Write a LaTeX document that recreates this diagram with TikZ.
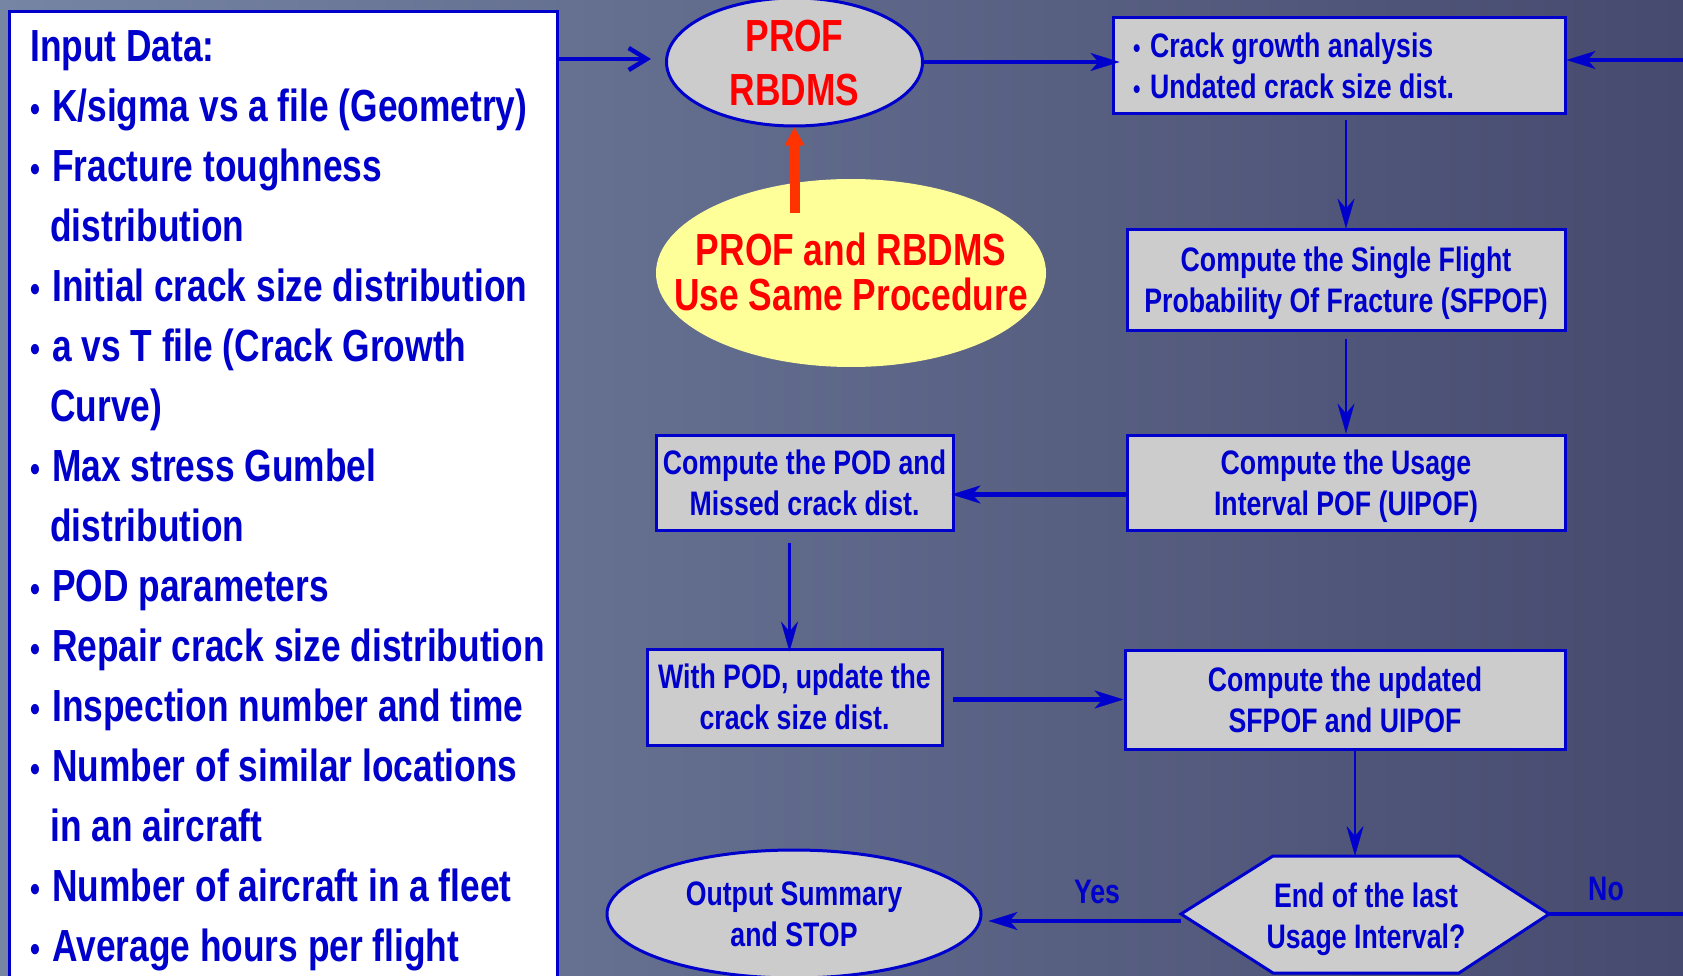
\documentclass[tikz,border=0pt]{standalone}
\usepackage{fontspec}
\newfontfamily\nar[FakeStretch=0.785]{Liberation Sans}
\usetikzlibrary{arrows.meta,shapes.geometric}
\definecolor{fb}{RGB}{0,0,204}
\definecolor{boxgray}{RGB}{204,204,204}
\definecolor{bgL}{RGB}{118,133,164}
\definecolor{bgR}{RGB}{70,74,110}
\definecolor{yelfill}{RGB}{255,255,153}
\definecolor{redarr}{RGB}{255,51,0}
\newcommand\bigbul{\makebox[22pt][l]{\fontsize{36}{36}\selectfont •}}
\newcommand\smallbul{\makebox[17pt][l]{\fontsize{27}{27}\selectfont •}}
\begin{document}
\begin{tikzpicture}[x=1pt,y=-1pt,
  lt/.style={font=\nar\bfseries\fontsize{45}{60}\selectfont, text=fb, anchor=base west, inner sep=0pt},
  flow/.style={draw=fb, line width=3pt, fill=boxgray, text=fb, font=\nar\bfseries\fontsize{34}{41}\selectfont, align=center, inner sep=0pt},
  flowbox/.style={flow, text depth=0pt},
  flowtxt/.style={text=fb, font=\nar\bfseries\fontsize{34}{41}\selectfont, align=center, inner sep=0pt},
  redtxt/.style={text=red, align=center, inner sep=0pt},
  thinarrow/.style={draw=fb, line width=2.6pt, -{Stealth[length=30pt,width=17pt,inset=10pt,line width=0.3pt]}},
  thickarrow/.style={draw=fb, line width=4.5pt, -{Stealth[length=29pt,width=18pt,inset=8pt,line width=0.3pt]}},
  redarrow/.style={draw=redarr, line width=10pt, -{Triangle[length=18pt,width=20pt,line width=0.3pt]}},
  ]
\useasboundingbox (0,0) rectangle (1683,976);
\shade[left color=bgL, right color=bgR] (0,0) rectangle (1683,976);

% input data box
\node[draw=fb, line width=3pt, fill=white, minimum width=548pt, minimum height=1000pt, inner sep=0pt, anchor=north west] (inp) at (8.3,10) {};
\node[lt] at (30,61.7) {Input Data:};
\node[lt] at (30,121.7) {\bigbul K/sigma vs a file (Geometry)};
\node[lt] at (30,181.7) {\bigbul Fracture toughness};
\node[lt] at (50,241.7) {distribution};
\node[lt] at (30,301.7) {\bigbul Initial crack size distribution};
\node[lt] at (30,361.7) {\bigbul a vs T file (Crack Growth};
\node[lt] at (50,421.7) {Curve)};
\node[lt] at (30,481.7) {\bigbul Max stress Gumbel};
\node[lt] at (50,541.7) {distribution};
\node[lt] at (30,601.7) {\bigbul POD parameters};
\node[lt] at (30,661.7) {\bigbul Repair crack size distribution};
\node[lt] at (30,721.7) {\bigbul Inspection number and time};
\node[lt] at (30,781.7) {\bigbul Number of similar locations};
\node[lt] at (50,841.7) {in an aircraft};
\node[lt] at (30,901.7) {\bigbul Number of aircraft in a fleet};
\node[lt] at (30,961.7) {\bigbul Average hours per flight};

% yellow note and PROF ellipse
\node[ellipse, fill=yelfill, minimum width=390pt, minimum height=188pt, inner sep=0pt] (same) at (851,273) {};
\node[redtxt, font=\nar\bfseries\fontsize{45}{45}\selectfont] (sametxt) at (851,271.5) {PROF and RBDMS\\Use Same Procedure};
\node[ellipse, draw=fb, line width=3pt, fill=boxgray, minimum width=256pt, minimum height=128pt, inner sep=0pt] (prof) at (794.5,62) {};
\node[redtxt, font=\nar\bfseries\fontsize{45}{54}\selectfont] (proftxt) at (794.5,63) {PROF\\RBDMS};
\coordinate (redstart) at (794.5,213);
\draw[redarrow] (redstart) -- (prof.south);

% flow boxes
\node[flow, minimum width=452pt, minimum height=96pt, text width=412pt, align=flush left] (boxA) at (1339,66) {\smallbul Crack growth analysis\\\smallbul Undated crack size dist.};
\node[flowbox, minimum width=438pt, minimum height=100pt] (boxB) at (1346,280) {Compute the Single Flight\\Probability Of Fracture (SFPOF)};
\node[flowbox, minimum width=438pt, minimum height=95pt] (boxC) at (1346,482.5) {Compute the Usage\\Interval POF (UIPOF)};
\node[flowbox, minimum width=297pt, minimum height=95pt] (boxD) at (804.5,482.5) {Compute the POD and\\Missed crack dist.};
\node[flowbox, minimum width=295pt, minimum height=96pt] (boxE) at (794.5,697) {With POD, update the\\crack size dist.};
\node[flowbox, minimum width=440pt, minimum height=99pt] (boxF) at (1345,699.5) {Compute the updated\\SFPOF and UIPOF};
\node[flowbox, ellipse, minimum width=374pt, minimum height=128pt] (ellH) at (794,914) {Output Summary\\and STOP};

% decision hexagon
\draw[draw=fb, line width=3pt, fill=boxgray] (1181,914) -- (1273,856) -- (1459,856) -- (1549,914) -- (1459,973) -- (1273,973) -- cycle;
\coordinate (hexW) at (1181,914);
\coordinate (hexE) at (1549,914);
\coordinate (hexN) at (1355,856);
\node[flowtxt, text depth=0pt] (hex) at (1366,916) {End of the last\\Usage Interval?};

% connectors
\draw[draw=fb, line width=4.5pt, -{Straight Barb[length=18pt,width=22pt]}] ([yshift=-49pt]inp.north east) -- ([xshift=-14pt,yshift=3pt]prof.west);
\draw[thickarrow, shorten >=-8pt] (prof.east) -- (prof.east -| boxA.west);
\draw[thinarrow, shorten <=5pt] (boxA.south -| boxB.north) -- (boxB.north);
\draw[thinarrow, shorten <=7pt] (boxB.south) -- (boxC.north);
\draw[thickarrow, shorten >=-3pt] ([yshift=-12pt]boxC.west) -- ([yshift=-12pt]boxD.east);
\draw[thinarrow, shorten <=11pt, shorten >=-4pt] ([xshift=-15pt]boxD.south) -- ([xshift=-5pt]boxE.north);
\draw[thickarrow, shorten <=9pt] (boxE.east |- boxF.west) -- (boxF.west);
\draw[thinarrow] (hexN |- boxF.south) -- (hexN);
\draw[thickarrow] ([yshift=-7pt]hexW) -- ([xshift=6pt,yshift=-7pt]ellH.east);
\coordinate (offR1) at (1700,914);
\coordinate (offR2) at (1700,60);
\draw[thickarrow] (hexE) -- (offR1) -- (offR2) -- ([yshift=6pt]boxA.east);
\node[flowtxt, anchor=base] (yes) at (1097,903) {Yes};
\node[flowtxt, anchor=base] (no) at (1606,900) {No};
\end{tikzpicture}
\end{document}
